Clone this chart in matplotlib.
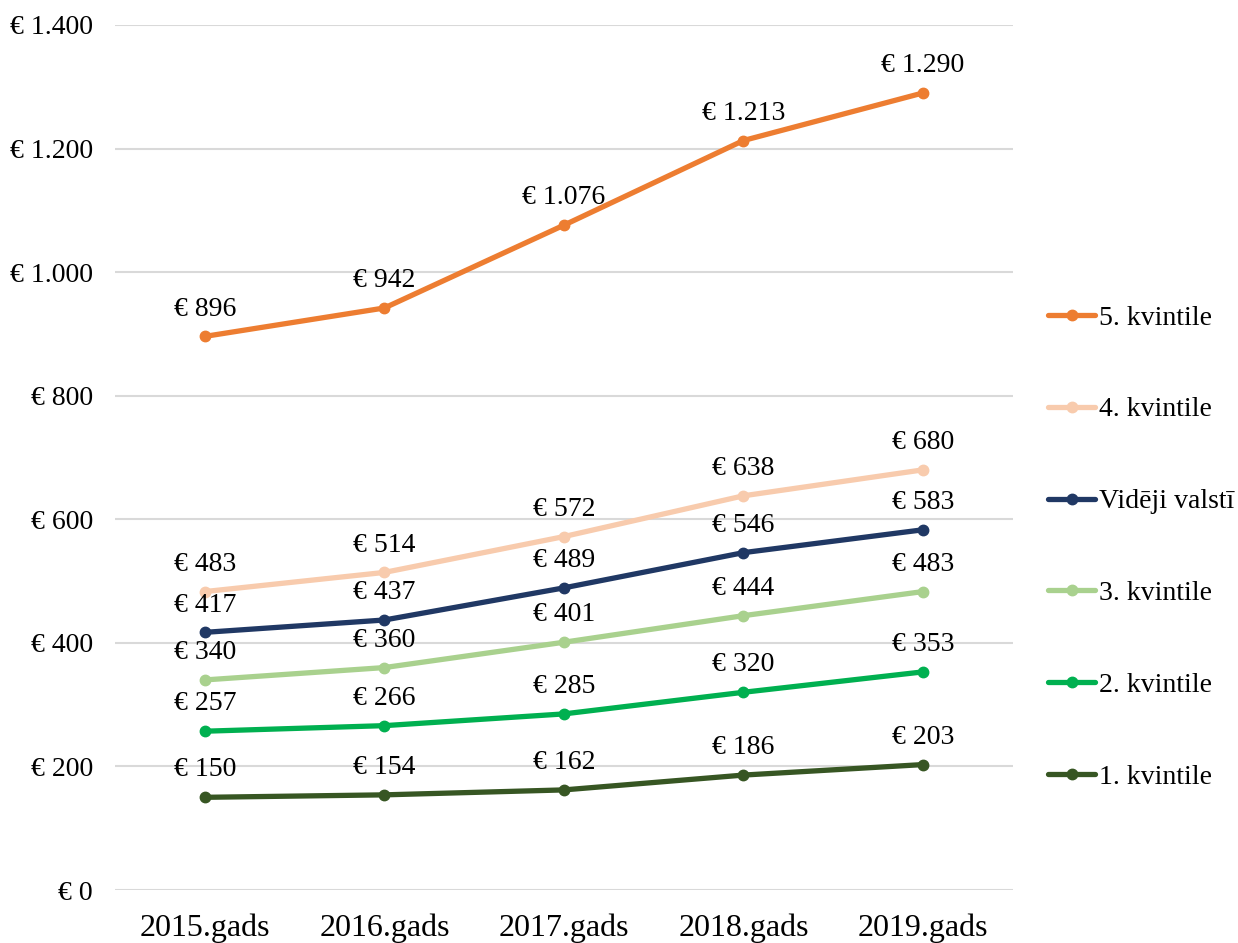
import matplotlib
matplotlib.use("Agg")
import matplotlib.pyplot as plt

years = ["2015.gads", "2016.gads", "2017.gads", "2018.gads", "2019.gads"]
series_names = ["5. kvintile", "4. kvintile", "Vidēji valstī", "3. kvintile", "2. kvintile", "1. kvintile"]
q5 = [896, 942, 1076, 1213, 1290]
q4 = [483, 514, 572, 638, 680]
avg = [417, 437, 489, 546, 583]
q3 = [340, 360, 401, 444, 483]
q2 = [257, 266, 285, 320, 353]
q1 = [150, 154, 162, 186, 203]
yticks = [0, 200, 400, 600, 800, 1000, 1200, 1400]
colors = ["#ED7D31", "#F8CBAD", "#203864", "#A9D18E", "#00B050", "#375623"]

plt.rcParams['font.family'] = ['Liberation Serif', 'DejaVu Serif']
FS = 20

def fmt(v):
    return "€ " + f"{v:,}".replace(",", ".")

fig = plt.figure(figsize=(12.38, 9.43), dpi=100)
ax = fig.add_axes([0.093, 0.0562, 0.725, 0.9173])

x = list(range(len(years)))
all_series = [q5, q4, avg, q3, q2, q1]
for name, vals, c in zip(series_names, all_series, colors):
    ax.plot(x, vals, color=c, lw=3.8, marker='o', ms=7.5, label=name, zorder=3,
            solid_capstyle='round')
    for xi, v in zip(x, vals):
        ax.annotate(fmt(v), (xi, v), xytext=(0, 15), textcoords='offset points',
                    ha='center', va='baseline', fontsize=FS, color='#000000')

ax.set_xlim(-0.5, len(years) - 0.5)
ax.set_ylim(0, 1400)
ax.set_yticks(yticks)
ax.set_yticklabels([fmt(v) for v in yticks], fontsize=FS)
ax.set_xticks(x)
ax.set_xticklabels(years, fontsize=23)
ax.tick_params(axis='y', length=0, pad=16)
ax.tick_params(axis='x', length=0, pad=17)
for s in ax.spines.values():
    s.set_visible(False)
ax.yaxis.grid(True, color='#D9D9D9', lw=1.5)
ax.set_axisbelow(True)

fig.legend(loc='center left', bbox_to_anchor=(0.8465, 0.4194), frameon=False,
           fontsize=FS, handlelength=1.7, handletextpad=0.12, labelspacing=2.39,
           borderpad=0, borderaxespad=0)

fig.savefig("out.png", dpi=100)
